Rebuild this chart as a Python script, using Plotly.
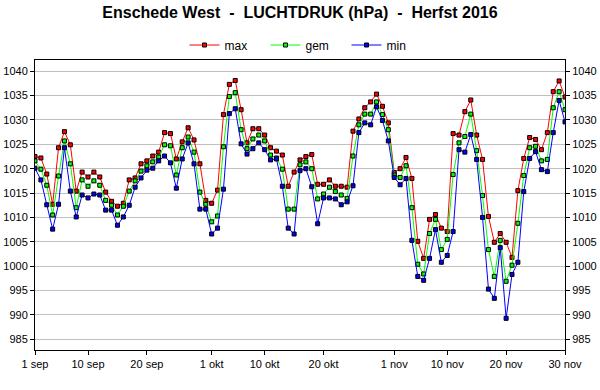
import datetime as dt
import plotly.graph_objects as go

start = dt.date(2016, 9, 1)
dates = [start + dt.timedelta(days=i) for i in range(91)]

max_vals = [1022.5, 1022.2, 1018.9, 1012.7, 1024.3, 1027.6, 1024.9, 1015.4, 1019.3, 1018.3,
            1019.3, 1018.3, 1015.2, 1013.3, 1012.3, 1012.9, 1017.7, 1018.1, 1021.0, 1021.6,
            1022.6, 1023.4, 1027.4, 1027.2, 1022.0, 1025.5, 1028.4, 1025.9, 1021.0, 1013.5,
            1012.9, 1015.6, 1031.1, 1037.3, 1038.1, 1032.1, 1025.3, 1028.2, 1028.2, 1026.9,
            1024.3, 1023.6, 1022.8, 1016.4, 1019.3, 1021.8, 1022.5, 1022.9, 1016.8, 1016.8,
            1017.7, 1016.4, 1016.4, 1016.2, 1027.7, 1030.2, 1032.5, 1033.7, 1035.3, 1032.8,
            1029.4, 1019.2, 1020.0, 1022.3, 1018.0, 1005.1, 1001.6, 1009.6, 1010.6, 1007.8,
            1007.1, 1027.2, 1026.9, 1031.7, 1034.1, 1026.9, 1021.9, 1010.2, 1004.9, 1006.7,
            1004.9, 1001.8, 1015.5, 1022.1, 1026.4, 1026.0, 1023.9, 1027.4, 1035.8, 1038.0,
            1034.7]

gem_vals = [1021.6, 1019.9, 1016.6, 1010.5, 1018.5, 1025.7, 1021.0, 1012.0, 1017.7, 1016.4,
            1017.5, 1016.6, 1013.5, 1012.5, 1010.5, 1012.3, 1015.4, 1017.5, 1019.5, 1020.6,
            1021.4, 1022.4, 1024.9, 1024.7, 1018.7, 1024.3, 1026.5, 1023.4, 1015.2, 1012.7,
            1009.1, 1010.3, 1024.5, 1034.8, 1035.6, 1028.0, 1024.1, 1026.1, 1026.9, 1025.7,
            1022.8, 1022.2, 1019.9, 1011.7, 1011.7, 1020.8, 1021.4, 1020.0, 1013.8, 1014.8,
            1016.2, 1015.3, 1014.6, 1013.9, 1022.6, 1029.0, 1031.2, 1031.2, 1033.7, 1031.1,
            1028.0, 1018.7, 1018.2, 1020.6, 1012.0, 1000.4, 998.4, 1006.7, 1009.6, 1003.4,
            1005.5, 1018.8, 1025.3, 1026.6, 1031.2, 1023.7, 1014.5, 1003.4, 997.9, 1005.3,
            996.9, 1000.2, 1008.8, 1018.6, 1024.3, 1024.6, 1021.6, 1021.9, 1032.5, 1035.8,
            1032.1]

min_vals = [1020.1, 1017.7, 1012.6, 1007.6, 1012.7, 1024.3, 1015.4, 1010.1, 1014.6, 1014.0,
            1014.8, 1014.6, 1011.5, 1011.5, 1008.4, 1010.1, 1012.5, 1016.2, 1018.1, 1019.7,
            1020.1, 1021.6, 1022.6, 1021.2, 1016.0, 1022.0, 1025.3, 1021.0, 1011.7, 1011.7,
            1006.6, 1007.8, 1015.8, 1031.3, 1032.3, 1025.1, 1023.0, 1024.1, 1025.3, 1023.9,
            1021.8, 1022.0, 1016.4, 1007.8, 1006.6, 1019.6, 1020.0, 1016.3, 1008.7, 1014.0,
            1014.0, 1013.8, 1012.6, 1013.2, 1016.5, 1027.4, 1029.4, 1029.0, 1032.7, 1029.9,
            1025.7, 1018.2, 1016.7, 1018.0, 1005.3, 997.9, 997.1, 1001.6, 1007.5, 1000.8,
            1002.2, 1007.1, 1023.9, 1023.4, 1027.0, 1021.9, 1010.0, 995.3, 993.4, 1003.8,
            989.3, 998.3, 1000.8, 1015.3, 1022.1, 1023.5, 1019.8, 1019.4, 1027.4, 1034.0,
            1029.6]

x_tick_dates = ["2016-09-01", "2016-09-10", "2016-09-20", "2016-10-01", "2016-10-10",
                "2016-10-20", "2016-11-01", "2016-11-10", "2016-11-20", "2016-11-30"]
x_tick_labels = ["1 sep", "10 sep", "20 sep", "1 okt", "10 okt", "20 okt",
                 "1 nov", "10 nov", "20 nov", "30 nov"]
y_ticks = [985, 990, 995, 1000, 1005, 1010, 1015, 1020, 1025, 1030, 1035, 1040]

series = [("max", max_vals, "#ff0000"), ("gem", gem_vals, "#00ff00"), ("min", min_vals, "#0000ff")]

FONT = "Arial, 'Liberation Sans', sans-serif"
fig = go.Figure()
for name, vals, col in series:
    fig.add_trace(go.Scatter(
        x=dates, y=vals, name=name, mode="lines+markers",
        line=dict(color=col, width=1),
        marker=dict(symbol="square", size=4, color=col, line=dict(color="black", width=1)),
    ))
# invisible trace to activate right axis
fig.add_trace(go.Scatter(x=dates, y=gem_vals, yaxis="y2", mode="lines",
                         line=dict(width=0), opacity=0, showlegend=False, hoverinfo="skip"))

yrange = [982.8, 1042.3]
fig.update_layout(
    width=600, height=390, autosize=False,
    margin=dict(l=35, r=35, t=60, b=40),
    paper_bgcolor="white", plot_bgcolor="white",
    font=dict(family=FONT, size=11, color="black"),
    title=dict(text="Enschede West\u00a0 -\u00a0 LUCHTDRUK (hPa)\u00a0 -\u00a0 Herfst 2016",
               x=0.5, xanchor="center", y=1 - 12 / 390, yanchor="middle",
               font=dict(family=FONT, size=16, color="black", weight="bold")),
    legend=dict(orientation="h", x=0.5 + 6 / 530, xanchor="center", y=1 + 15 / 290, yanchor="middle",
                font=dict(family=FONT, size=12), bgcolor="rgba(0,0,0,0)",
                entrywidth=36, entrywidthmode="pixels", itemwidth=30),
    xaxis=dict(type="date", range=[dates[0], dates[-1]], automargin=False,
               tickmode="array", tickvals=x_tick_dates, ticktext=x_tick_labels,
               showgrid=False, showline=True, linecolor="black", linewidth=1, mirror=True,
               ticks="outside", ticklen=4, tickcolor="black", zeroline=False,
               tickfont=dict(size=11)),
    yaxis=dict(range=yrange, tickmode="array", tickvals=y_ticks, automargin=False,
               showgrid=True, gridcolor="#c0c0c0", gridwidth=1,
               showline=True, linecolor="black", linewidth=1, mirror=True,
               ticks="outside", ticklen=4, tickcolor="black", zeroline=False,
               tickfont=dict(size=11)),
    yaxis2=dict(range=yrange, overlaying="y", side="right", tickmode="array", tickvals=y_ticks,
                automargin=False,
                showgrid=False, showline=False, ticks="outside", ticklen=4, tickcolor="black",
                zeroline=False, tickfont=dict(size=11)),
)

fig.write_html("out.html", config={"displayModeBar": False},
               post_script="document.body.style.margin='0';")
